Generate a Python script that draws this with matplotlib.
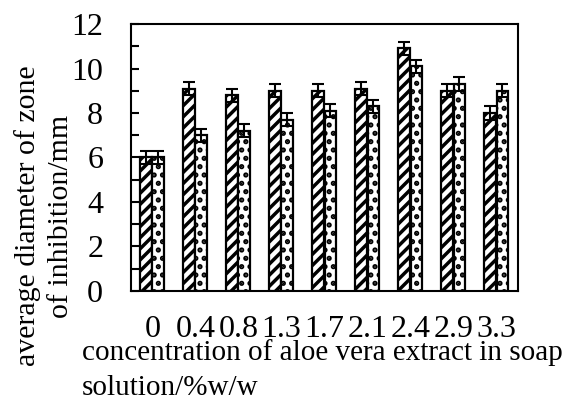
import matplotlib
matplotlib.use("Agg")
import matplotlib.pyplot as plt
import numpy as np
from matplotlib.ticker import MultipleLocator

categories = ["0", "0.4", "0.8", "1.3", "1.7", "2.1", "2.4", "2.9", "3.3"]
series_a = [6.0, 9.1, 8.8, 9.0, 9.0, 9.1, 10.9, 9.0, 8.0]
series_b = [6.0, 7.0, 7.2, 7.7, 8.1, 8.3, 10.1, 9.3, 9.0]
err_a = [0.3, 0.3, 0.3, 0.3, 0.3, 0.3, 0.3, 0.3, 0.3]
err_b = [0.3, 0.3, 0.3, 0.3, 0.3, 0.3, 0.3, 0.3, 0.3]

plt.rcParams['font.family'] = ['Liberation Serif', 'DejaVu Serif']
plt.rcParams['hatch.linewidth'] = 2.5
plt.rcParams['hatch.color'] = 'black'

FS_TICK = 23
FS_LABEL = 21

fig = plt.figure(figsize=(5.7, 4.03), dpi=100)
ax = fig.add_axes([0.2298, 0.278, 0.679, 0.6624])

x = np.arange(len(categories))
w = 0.27
ax.bar(x - 0.145, series_a, width=w, color='white', edgecolor='black',
       linewidth=1.6, hatch='///', zorder=2)
ax.bar(x + 0.135, series_b, width=w, color='white', edgecolor='black',
       linewidth=1.6, hatch='..', zorder=2)
ax.errorbar(x - 0.145, series_a, yerr=err_a, fmt='none', ecolor='black',
            elinewidth=1.5, capsize=4, capthick=1.5, zorder=3)
ax.errorbar(x + 0.135, series_b, yerr=err_b, fmt='none', ecolor='black',
            elinewidth=1.5, capsize=4, capthick=1.5, zorder=3)

ax.set_xlim(-0.5, len(categories) - 0.5)
ax.set_ylim(0, 12)
ax.yaxis.set_major_locator(MultipleLocator(2))
ax.yaxis.set_minor_locator(MultipleLocator(1))
ax.set_xticks(x)
ax.set_xticklabels(categories)
ax.tick_params(axis='x', length=0, pad=17, labelsize=FS_TICK)
ax.tick_params(axis='y', which='both', direction='in', length=6, width=1.5,
               pad=20, labelsize=FS_TICK)
for s in ax.spines.values():
    s.set_linewidth(1.5)
    s.set_color('black')

fig.text(44 / 570, 1 - 216 / 403, "average diameter of zone\nof inhibition/mm",
         rotation=90, ha='center', va='center', multialignment='center',
         fontsize=21.5, linespacing=1.35)
fig.text(82 / 570, 1 - 339 / 403,
         "concentration of aloe vera extract in soap\nsolution/%w/w",
         ha='left', va='top', multialignment='left', fontsize=FS_LABEL,
         linespacing=1.45)

fig.savefig("out.png", dpi=100)
